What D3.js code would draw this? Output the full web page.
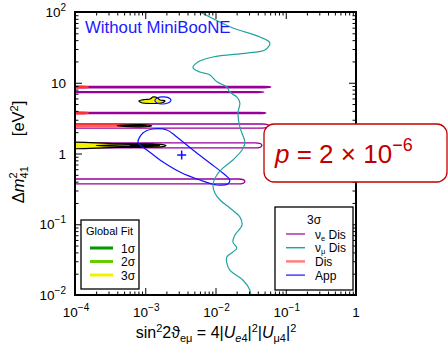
<!DOCTYPE html>
<html><head><meta charset="utf-8">
<script src="https://cdn.jsdelivr.net/npm/d3@7"></script>
<style>body{margin:0;background:#fff}svg{display:block}text{font-family:"Liberation Sans",Arial,sans-serif}</style>
</head><body><svg id="c" width="448" height="346"></svg>
<script>
// ---------- data ----------
const xMajor=[1e-4,1e-3,1e-2,1e-1,1];
const xMajorLabels=[["10","−4"],["10","−3"],["10","−2"],["10","−1"],["1",""]];
const yMajor=[1e-2,1e-1,1,10,100];
const yMajorLabels=[["10","−2"],["10","−1"],["1",""],["10",""],["10","2"]];

// nu_e disappearance 3sigma islands
const nueDm2Low=[8.5,7.28,3.65,2.29,1.20,0.371];
const nueDm2High=[8.9,7.48,3.81,2.61,1.41,0.436];
const nueS2Max=[0.0614,0.0487,0.0521,0.0575,0.0457,0.0262];

// Dis (combined disappearance) 3sigma islands
const disDm2Low=[8.55,3.67,2.43,1.23];
const disDm2High=[8.85,3.79,2.57,1.37];
const disS2Max=[1.53e-4,1.53e-4,1.1e-3,1.1e-3];

// nu_mu disappearance 3sigma curve
const numuS2=[0.0060,0.0177,0.0429,0.0594,0.0505,0.0280,0.00918,0.00562,0.00478,0.0060,0.00832,0.0105,0.0145,0.0160,0.0201,0.0222,0.0209,0.0222,0.0262,0.0238,0.0177,0.0127,0.0105,0.0092,0.0098,0.0116,0.0160,0.0222,0.0238,0.0189,0.0177,0.0201,0.0177,0.0145,0.0145,0.0160,0.0245,0.0308,0.0317];
const numuDm2=[100,59.4,44.4,36.5,29.0,26.3,23.1,19.6,16.2,14.2,12.9,10.3,8.7,7.4,6.3,5.2,3.73,2.37,1.41,1.12,0.81,0.62,0.50,0.36,0.277,0.220,0.170,0.127,0.0975,0.0705,0.0561,0.0462,0.0405,0.0345,0.0283,0.0225,0.0163,0.0118,0.01];

// Appearance 3sigma contours
const appS2=[7.87e-4,9.27e-4,1.29e-3,2.04e-3,2.82e-3,4.78e-3,8.32e-3,0.0127,0.0160,0.0150,0.0105,0.0060,3.12e-3,1.62e-3,1.06e-3,8.41e-4];
const appDm2=[1.46,1.95,2.22,2.15,1.71,1.12,0.734,0.530,0.422,0.371,0.359,0.422,0.548,0.81,1.12,1.32];
const appS2b=[1.37e-3,1.52e-3,1.85e-3,2.24e-3,2.32e-3,2.10e-3,1.73e-3,1.47e-3];
const appDm2b=[5.61,6.20,6.30,5.99,5.61,5.18,5.01,5.18];
const appBestS2=[3.3e-3];
const appBestDm2=[0.95];

// Global fit islands
const gfA3S2=[8.13e-4,9.9e-4,1.17e-3,1.29e-3,1.47e-3,1.62e-3,1.91e-3,1.79e-3,1.17e-3,8.7e-4];
const gfA3Dm2=[5.52,5.80,5.89,6.30,6.20,5.70,5.55,5.26,5.09,5.26];
const gfB3S2=[3.95e-4,6e-4,1.0e-3,1.24e-3,1.0e-3,6e-4];
const gfB3Dm2=[2.47,2.54,2.55,2.47,2.39,2.40];
const gfB2S2=[5.5e-4,8e-4,1.05e-3,8e-4];
const gfB2Dm2=[2.47,2.51,2.47,2.43];
const gfC3S2=[5e-5,4e-4,1.2e-3,1.75e-3,1.97e-3,1.75e-3,1.2e-3,4e-4,5e-5];
const gfC3Dm2=[1.37,1.38,1.37,1.34,1.30,1.25,1.23,1.22,1.23];
const gfC2S2=[2.0e-4,6e-4,1.2e-3,1.6e-3,1.2e-3,6e-4];
const gfC2Dm2=[1.30,1.34,1.345,1.30,1.26,1.26];
const gfC1S2=[6e-4,1.0e-3,1.35e-3,1.0e-3];
const gfC1Dm2=[1.30,1.325,1.30,1.275];

const globalLegend=["1σ","2σ","3σ"];
const sigmaLegend=[["ν","e"," Dis"],["ν","μ"," Dis"],["Dis","",""],["App","",""]];

// ---------- styles ----------
const C_NUE="#990099", C_NUMU="#22a3a3", C_DIS="#ff3333", C_DISLEG="#ff7f7f", C_APP="#1010ff";
const C_G1="#009900", C_G2="#66cc00", C_G3="#f2f200";

const svg=d3.select("#c");
const L=75,R=356,T=12,B=295;
const x=d3.scaleLog().domain([1e-4,1]).range([L,R]);
const y=d3.scaleLog().domain([1e-2,1e2]).range([B,T]);

svg.append("defs").append("clipPath").attr("id","clip").append("rect")
  .attr("x",L).attr("y",T).attr("width",R-L).attr("height",B-T);
const plot=svg.append("g").attr("clip-path","url(#clip)");

function island(lo,hi,xmax){
  const p=d3.path();
  const xl=x(5e-5), xr=x(xmax), xm=x(xmax*0.8);
  const yh=y(hi), yl=y(lo), ym=(yh+yl)/2;
  p.moveTo(xl,yh); p.lineTo(xm,yh);
  p.quadraticCurveTo(xr,yh,xr,ym);
  p.quadraticCurveTo(xr,yl,xm,yl);
  p.lineTo(xl,yl);
  return p.toString();
}
nueS2Max.forEach((m,i)=>{
  plot.append("path").attr("d",island(nueDm2Low[i],nueDm2High[i],m))
   .attr("fill","none").attr("stroke",C_NUE).attr("stroke-width",1.3);
});
disS2Max.forEach((m,i)=>{
  plot.append("path").attr("d",island(disDm2Low[i],disDm2High[i],m))
   .attr("fill","none").attr("stroke",C_DIS).attr("stroke-width",i<2?2:1.3);
});

const closed=d3.line().x(d=>x(d[0])).y(d=>y(d[1])).curve(d3.curveCatmullRomClosed);
const open=d3.line().x(d=>x(d[0])).y(d=>y(d[1])).curve(d3.curveCatmullRom);
const zip=(a,b)=>a.map((v,i)=>[v,b[i]]);

[[gfA3S2,gfA3Dm2,C_G3],[gfB3S2,gfB3Dm2,C_G3],[gfC3S2,gfC3Dm2,C_G3],
 [gfB2S2,gfB2Dm2,C_G2],[gfC2S2,gfC2Dm2,C_G2],[gfC1S2,gfC1Dm2,C_G1]].forEach(([s,d,c])=>{
  plot.append("path").attr("d",closed(zip(s,d))).attr("fill",c)
   .attr("stroke","#000").attr("stroke-width",1.2);
});

plot.append("path").attr("d",closed(zip(appS2,appDm2))).attr("fill","none").attr("stroke",C_APP).attr("stroke-width",1.2);
plot.append("path").attr("d",closed(zip(appS2b,appDm2b))).attr("fill","none").attr("stroke",C_APP).attr("stroke-width",1.2);
appBestS2.forEach((s,i)=>{
  const cx=x(s), cy=y(appBestDm2[i]);
  plot.append("path").attr("d",`M${cx-4.5},${cy}H${cx+4.5}M${cx},${cy-4.5}V${cy+4.5}`)
   .attr("stroke",C_APP).attr("stroke-width",1.5);
});

plot.append("path").attr("d",open(zip(numuS2,numuDm2))).attr("fill","none").attr("stroke",C_NUMU).attr("stroke-width",1.2);

// ---------- axes ----------
const isMaj=v=>Math.abs(Math.log10(v)-Math.round(Math.log10(v)))<1e-6;
const xMin=x.ticks().filter(v=>!isMaj(v));
const yMin=y.ticks().filter(v=>!isMaj(v));
function ax(gen,vals,size,tr){
  const g=svg.append("g").attr("transform",tr).call(gen.tickValues(vals).tickSizeInner(size).tickSizeOuter(0).tickFormat(""));
  g.select(".domain").remove();
  g.selectAll("line").attr("stroke","#000").attr("stroke-width",1);
}
ax(d3.axisBottom(x),xMajor,-7,`translate(0,${B})`);
ax(d3.axisBottom(x),xMin,-3.5,`translate(0,${B})`);
ax(d3.axisTop(x),xMajor,-7,`translate(0,${T})`);
ax(d3.axisTop(x),xMin,-3.5,`translate(0,${T})`);
ax(d3.axisLeft(y),yMajor,-7,`translate(${L},0)`);
ax(d3.axisLeft(y),yMin,-3.5,`translate(${L},0)`);
ax(d3.axisRight(y),yMajor,-7,`translate(${R},0)`);
ax(d3.axisRight(y),yMin,-3.5,`translate(${R},0)`);

svg.append("rect").attr("x",L).attr("y",T).attr("width",R-L).attr("height",B-T)
  .attr("fill","none").attr("stroke","#000").attr("stroke-width",2);

function powLabel(sel,base,exp){
  sel.append("tspan").text(base);
  if(exp) sel.append("tspan").attr("dy",-6).attr("font-size",10).text(exp);
}
xMajor.forEach((v,i)=>{
  const t=svg.append("text").attr("x",x(v)+(xMajorLabels[i][1]?1:0)).attr("y",317)
   .attr("text-anchor","middle").attr("font-size",13.5);
  powLabel(t,xMajorLabels[i][0],xMajorLabels[i][1]);
});
yMajor.forEach((v,i)=>{
  const t=svg.append("text").attr("x",66).attr("y",y(v)+5)
   .attr("text-anchor","end").attr("font-size",13.5);
  powLabel(t,yMajorLabels[i][0],yMajorLabels[i][1]);
});

// x title
{
  const t=svg.append("text").attr("x",216).attr("y",338).attr("text-anchor","middle").attr("font-size",16);
  t.append("tspan").text("sin");
  t.append("tspan").attr("dy",-6).attr("font-size",11).text("2");
  t.append("tspan").attr("dy",6).text("2ϑ");
  t.append("tspan").attr("dy",4).attr("font-size",11).text("eμ");
  t.append("tspan").attr("dy",-4).text(" = 4|");
  t.append("tspan").attr("font-style","italic").text("U");
  t.append("tspan").attr("dy",4).attr("font-size",11).attr("font-style","italic").text("e");
  t.append("tspan").attr("font-size",11).text("4");
  t.append("tspan").attr("dy",-4).text("|");
  t.append("tspan").attr("dy",-6).attr("font-size",11).text("2");
  t.append("tspan").attr("dy",6).text("|");
  t.append("tspan").attr("font-style","italic").text("U");
  t.append("tspan").attr("dy",4).attr("font-size",11).text("μ4");
  t.append("tspan").attr("dy",-4).text("|");
  t.append("tspan").attr("dy",-6).attr("font-size",11).text("2");
}
// y title
{
  const t=svg.append("text").attr("transform","translate(24,152) rotate(-90)").attr("text-anchor","middle").attr("font-size",16.5);
  t.append("tspan").text("Δ");
  t.append("tspan").attr("font-style","italic").text("m");
  t.append("tspan").attr("dy",-7).attr("font-size",11).text("2");
  t.append("tspan").attr("dy",11).attr("dx",-6).attr("font-size",11).text("41");
  t.append("tspan").attr("dy",-4).attr("dx",30).text("[eV");
  t.append("tspan").attr("dy",-6).attr("font-size",11).text("2");
  t.append("tspan").attr("dy",6).text("]");
}

svg.append("text").attr("x",85).attr("y",33).attr("font-size",16.8).attr("fill","#1a1aff").text("Without MiniBooNE");

// p box
svg.append("rect").attr("x",264).attr("y",124).attr("width",183).attr("height",58).attr("rx",10)
  .attr("fill","#fff").attr("stroke","#c00000").attr("stroke-width",1.3);
{
  const t=svg.append("text").attr("x",275).attr("y",163).attr("font-size",26).attr("fill","#c00000");
  t.append("tspan").attr("font-style","italic").text("p");
  t.append("tspan").text(" = 2 × 10");
  t.append("tspan").attr("dy",-12).attr("font-size",18).text("−6");
}

// legend: Global fit
svg.append("rect").attr("x",81).attr("y",220).attr("width",58).attr("height",69).attr("fill","#fff").attr("stroke","#000").attr("stroke-width",1.3);
svg.append("text").attr("x",86).attr("y",235).attr("font-size",11).text("Global Fit");
[C_G1,C_G2,C_G3].forEach((c,i)=>{
  const yy=248+i*13.5;
  svg.append("line").attr("x1",90).attr("x2",113).attr("y1",yy).attr("y2",yy).attr("stroke",c).attr("stroke-width",3);
  svg.append("text").attr("x",121).attr("y",yy+4.5).attr("font-size",12).text(globalLegend[i]);
});

// legend: 3 sigma
svg.append("rect").attr("x",275).attr("y",207).attr("width",78).attr("height",83).attr("fill","#fff").attr("stroke","#000").attr("stroke-width",1.3);
svg.append("text").attr("x",314).attr("y",224).attr("font-size",12).attr("text-anchor","middle").text("3σ");
[[C_NUE,1.2],[C_NUMU,1.5],[C_DISLEG,2.5],[C_APP,1.2]].forEach(([c,w],i)=>{
  const yy=234+i*13.7;
  svg.append("line").attr("x1",286).attr("x2",305).attr("y1",yy).attr("y2",yy).attr("stroke",c).attr("stroke-width",w);
  const t=svg.append("text").attr("x",315).attr("y",yy+4.5).attr("font-size",12);
  const [a,s,b]=sigmaLegend[i];
  t.append("tspan").text(a);
  if(s){ t.append("tspan").attr("dy",2).attr("font-size",7.5).text(s); t.append("tspan").attr("dy",-2).text(b); }
});
</script></body></html>
